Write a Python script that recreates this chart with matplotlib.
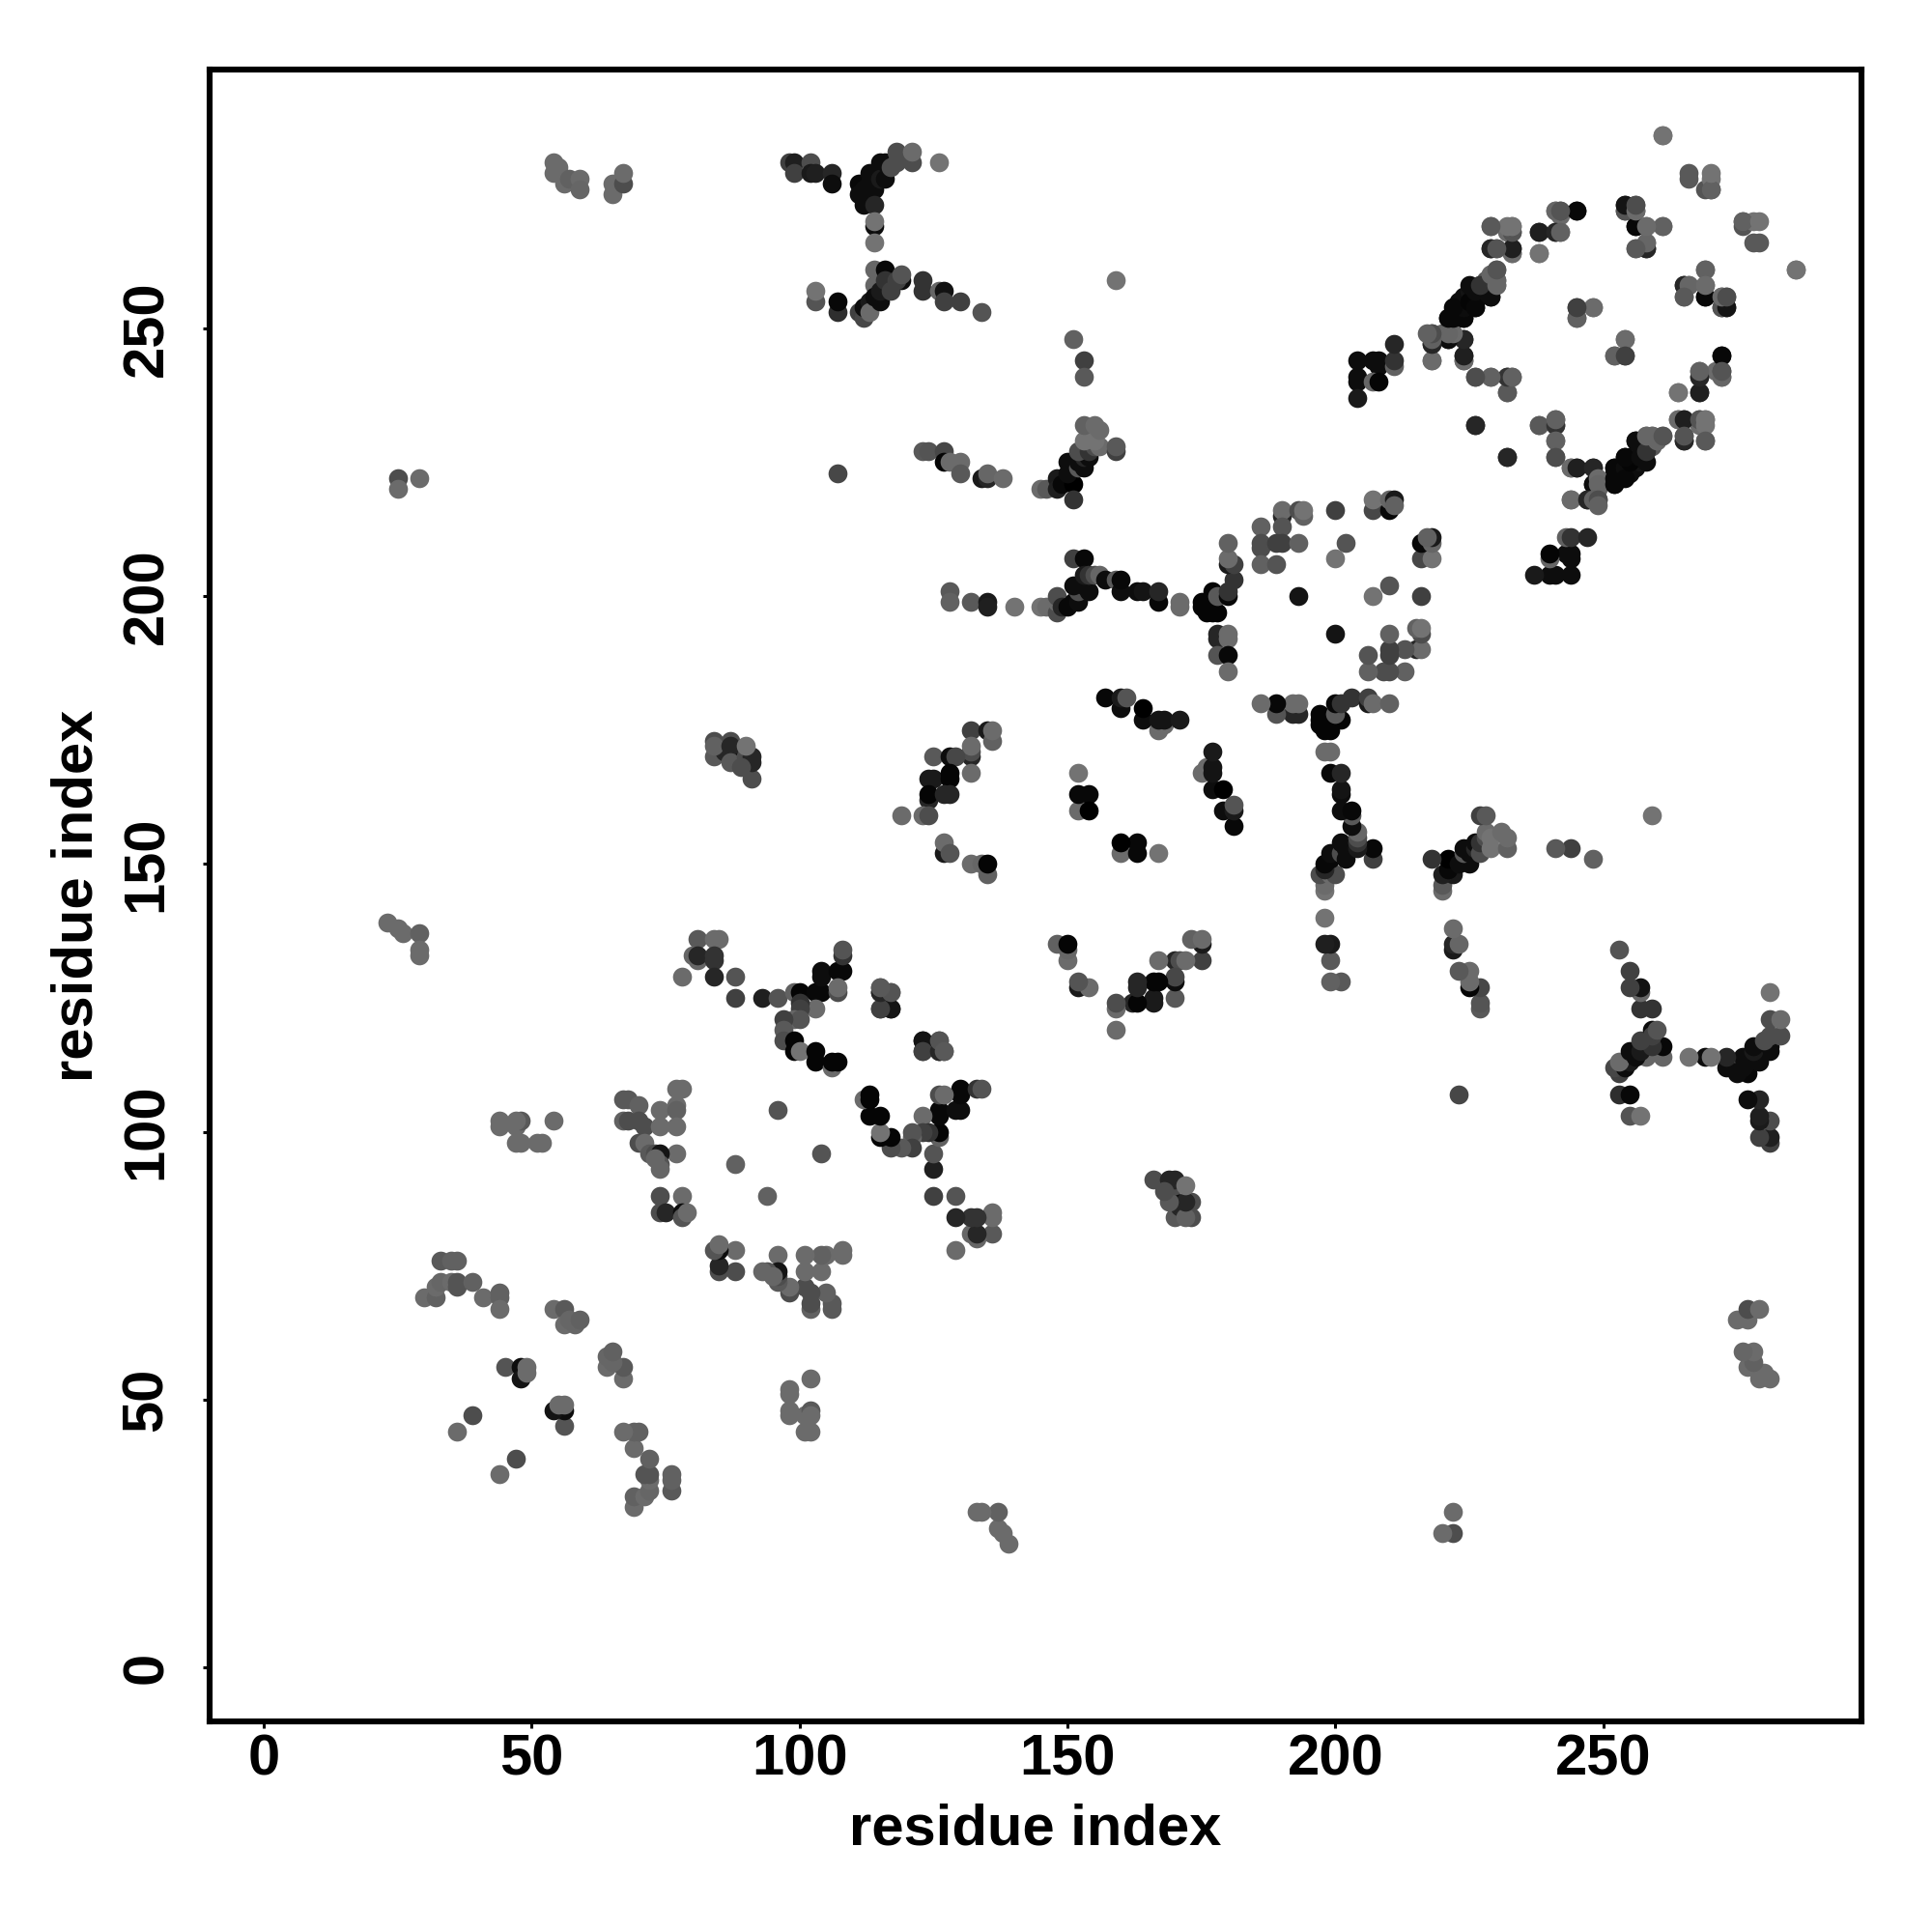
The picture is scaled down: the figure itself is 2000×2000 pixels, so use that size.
import matplotlib
matplotlib.use("Agg")
import matplotlib.pyplot as plt

# contacts as (residue i, residue j, grey level), i < j; the map is symmetric
far_a = [(25,222,.3),(25,220,.42),(29,222,.42),(23,139,.42),(25,138,.42),(26,137,.42),(29,137,.38),(29,134,.42),(29,133,.42)]
far_b = [(54,281,.42),(54,279,.42),(55,280,.42),(56,277,.42),(57,278,.38),(59,278,.42),(59,276,.4),
         (65,277,.42),(65,275,.42),(67,277,.3),(67,279,.42)]
top_left = [(98,281,.25),(99,281,.12),(99,279,.25),(102,281,.3),(102,279,.1),(103,279,.12),(106,279,.15),(106,277,.05),
            (111,277,.03),(111,275,.05),(112,276,.05),(112,273,.05),(113,279,.05),(113,277,.05),(114,276,.05),(114,273,.15),
            (115,281,.05),(115,278,.1),(116,281,.05),(116,278,.05),(117,280,.3),(118,283,.3),(118,281,.3),
            (121,281,.3),(121,283,.42),(126,281,.45),(114,269,.05),(114,270,.45),(114,266,.45)]
top_low = [(103,255,.33),(103,257,.45),(107,253,.18),(107,255,.03),(111,253,.25),(112,252,.28),(112,254,.05),
           (113,255,.1),(113,253,.42),(114,261,.4),(114,258,.4),(114,256,.05),(115,255,.05),(115,257,.1),
           (116,261,.03),(116,259,.2),(117,257,.25),(119,259,.05),(118,259,.25),(119,260,.33),
           (123,259,.2),(123,257,.2),(126,257,.4),(127,257,.07),(127,255,.25),(130,255,.25),(134,253,.33),(159,259,.45)]
mid_top = [(151,248,.38),(153,244,.25),(153,241,.35),(107,223,.28),
           (123,227,.35),(124,227,.33),(127,227,.28),(127,225,.02),(128,225,.42),(130,225,.42),(130,223,.35),
           (134,222,.1),(135,222,.15),(135,223,.4),(138,222,.42),(145,220,.42),(146,220,.35),
           (148,222,.1),(148,220,.12),(149,221,.03),(151,221,.0),(151,218,.2),(150,225,.05),(150,223,.05),
           (152,224,.35),(153,224,.05),(152,225,.05),(153,226,.15),(154,226,.05),(152,227,.3),(154,227,.2),
           (155,228,.3),(156,228,.42),(153,229,.45),(155,229,.45),(153,232,.38),(155,232,.42),(156,231,.42),
           (159,227,.25),(159,228,.35)]
line_200 = [(128,201,.35),(128,199,.38),(132,199,.35),(135,199,.1),(135,198,.12),(140,198,.45),(145,198,.45),(146,198,.42),
            (148,197,.3),(148,199,.42),(148,200,.3),(149,198,.15),(150,198,.03),(151,199,.03),(152,199,.05),
            (152,201,.3),(151,202,.05),(153,202,.05),(154,201,.05),(151,207,.25),(153,207,.03),(153,204,.1),
            (154,204,.2),(155,204,.3),(156,204,.4),(157,203,.05),(159,203,.35),(160,201,.05),(160,203,.03),
            (163,201,.05),(164,201,.08),(167,199,.03),(167,201,.15),(171,199,.42),(171,198,.42),
            (175,199,.02),(175,198,.02),(176,197,.02),(177,197,.02),(177,198,.02),(178,197,.02),(177,201,.02),
            (178,200,.35),(180,200,.03),(180,201,.2),(181,203,.2),(180,206,.1),(181,206,.25),(180,207,.42),(180,210,.38)]
ring_a = [(178,193,.15),(178,192,.15),(180,193,.42),(180,192,.42),(178,189,.33),(180,189,.03),(180,186,.42),
          (186,213,.38),(186,210,.3),(186,209,.3),(186,206,.38),(189,206,.33),(190,215,.15),(190,216,.42),(190,213,.33),
          (189,210,.25),(190,210,.25),(193,210,.38),(193,216,.3),(194,215,.38),(194,216,.45),(200,216,.25),
          (202,210,.33),(200,207,.45),(193,200,.08),
          (207,216,.28),(207,218,.45),(210,216,.03),(210,218,.4),(211,218,.1),(211,217,.38)]
upper_a = [(204,244,.05),(204,241,.05),(204,240,.05),(204,237,.1),(207,244,.05),(208,244,.05),(208,243,.05),(207,240,.4),(208,240,.02),
           (211,243,.38),(211,244,.2),(211,247,.15),(218,247,.2),(218,248,.3),(218,249,.33),(220,249,.38),(221,248,.03),(221,249,.45),
           (224,248,.12),(224,244,.35),(224,245,.15),(218,244,.42),(226,241,.3),(229,241,.4),(232,241,.25),(233,241,.33),(232,238,.35),
           (226,232,.12),(232,226,.15),(238,232,.35),(241,232,.2),(241,233,.38),(241,229,.38),(241,226,.3)]
upper_diag = [(221,252,.03),(223,252,.05),(224,252,.03),(222,253,.05),(226,254,.05),(223,255,.05),(226,255,.05),(224,256,.05),
              (225,257,.08),(226,257,.05),(228,257,.15),(229,256,.05),(229,257,.2),(228,259,.35),(227,258,.42),(230,258,.38),
              (230,259,.42),(229,260,.42),(230,261,.42),(229,265,.15),(230,265,.33),(233,265,.18),(233,264,.38),
              (229,269,.35),(232,268,.42),(233,268,.3),(233,269,.45),(238,264,.45),(238,268,.15),(241,268,.35),(242,268,.4),
              (241,272,.4),(242,271,.42),(242,272,.28),(245,272,.05),(245,254,.25),(245,252,.38),(248,254,.42)]
upper_low = [(244,224,.42),(245,224,.12),(248,224,.15),(248,221,.05),(249,222,.42),(249,221,.4),(244,218,.42),(247,218,.15),
             (248,218,.38),(249,218,.3),(249,217,.38),(252,224,.03),(252,222,.03),(252,221,.03),(254,224,.05),(254,222,.03),
             (255,225,.02),(254,226,.03),(256,229,.05),(257,228,.05),(257,226,.05),(258,225,.05),(258,227,.2),(258,230,.4),
             (259,230,.4),(260,229,.4),(261,230,.33),(264,233,.42),(265,233,.12),(265,229,.15),(265,230,.33),(268,233,.33),
             (269,233,.45),(269,232,.45),(269,229,.35),(264,238,.45),(268,238,.12),(268,241,.15),(268,242,.38),(272,245,.03),
             (272,241,.4),(272,242,.33),(254,248,.42),(252,245,.38),(254,245,.25)]
upper_right = [(261,286,.45),(266,278,.35),(269,276,.33),(270,276,.3),(270,278,.45),(276,270,.38),(279,270,.45),(279,266,.35),
               (254,272,.2),(254,273,.12),(256,272,.25),(256,273,.33),(256,269,.02),(258,269,.42),(261,269,.38),(256,265,.38),
               (258,265,.15),(258,266,.45),(265,258,.15),(266,258,.4),(265,256,.35),(269,261,.38),(269,256,.03),(269,258,.42),
               (272,254,.33),(273,254,.08),(272,256,.42),(273,256,.3),(286,261,.45)]
helix_mid = [(132,175,.25),(135,175,.1),(136,173,.38),(136,175,.42),(132,170,.15),(132,171,.3),(132,172,.42),(125,170,.35),
             (128,170,.05),(129,170,.28),(132,167,.42),(124,166,.1),(125,166,.1),(128,166,.02),(128,167,.02),(124,162,.15),
             (124,163,.02),(127,163,.15),(128,163,.15),(119,159,.42),(123,159,.42),(124,159,.3),(127,152,.1),(127,154,.42),
             (128,152,.33),(132,150,.42),(134,150,.4),(135,148,.38),(135,150,.02),
             (152,167,.45),(152,160,.42),(152,163,.03),(154,163,.03),(154,160,.0),
             (157,181,.03),(160,179,.05),(160,181,.1),(161,181,.33),(164,177,.05),(164,179,.0),(167,175,.42),(168,176,.42),
             (167,177,.08),(168,177,.08),(171,177,.1)]
low_mid = [(84,173,.3),(84,170,.35),(87,173,.3),(87,170,.05),(86,171,.15),(84,172,.38),(87,172,.15),(87,169,.35),
           (90,170,.3),(91,166,.3),(91,169,.15),(91,170,.15),(90,172,.45),(89,168,.3)]
low_left = [(81,136,.35),(84,136,.42),(85,136,.42),(80,133,.4),(81,132,.4),(81,133,.15),(84,132,.2),(84,133,.2),(84,129,.15),
            (78,129,.42),(88,129,.33),(88,125,.25),(93,125,.12),(96,125,.33),(99,126,.38),(100,126,.02),(103,126,.03),(104,126,.03),
            (104,129,.05),(104,130,.05),(107,130,.03),(108,130,.03),(108,133,.2),(108,134,.33),(107,126,.3),(107,127,.42),
            (103,123,.42),(100,124,.2),(100,123,.25),(99,121,.4),(100,121,.33),(97,121,.25),(97,119,.35),(97,117,.3),(99,117,.02),
            (99,115,.02),(100,115,.45),(103,115,.02),(103,113,.02),(106,112,.42),(106,113,.02),(107,113,.02),
            (115,127,.33),(115,126,.1),(117,126,.35),(115,123,.25),(117,123,.1),(123,117,.08),(123,115,.25),(126,115,.15),
            (126,117,.33),(127,115,.35)]
low_cross = [(68,106,.35),(67,106,.35),(70,105,.38),(74,104,.42),(77,105,.42),(77,104,.38),(77,108,.42),(78,108,.42),
             (67,102,.38),(68,102,.3),(70,102,.3),(71,101,.3),(74,101,.42),(77,101,.42),(70,98,.3),(71,98,.42),(77,96,.42),
             (72,96,.35),(73,96,.3),(74,96,.08),(74,94,.33),(73,95,.4),(74,93,.4),(88,94,.38),(96,104,.33),
             (74,88,.3),(78,88,.42),(74,85,.3),(75,85,.15),(78,85,.05),(78,84,.33),(79,85,.42),
             (44,101,.42),(44,102,.42),(47,101,.42),(48,102,.35),(47,102,.42),(47,98,.42),(48,98,.42),(51,98,.42),(52,98,.42),(54,102,.42)]
near_diag = [(33,76,.35),(35,76,.38),(36,76,.38),(30,69,.42),(32,69,.38),(32,71,.42),(33,72,.4),(35,72,.42),(36,71,.33),(36,72,.33),
             (39,72,.38),(41,69,.42),(44,70,.38),(44,69,.38),(44,67,.42),(54,67,.42),(56,67,.35),(56,64,.42),(58,64,.4),(57,65,.4),
             (59,65,.38),(45,56,.33),(48,56,.05),(48,54,.08),(49,56,.42),(49,55,.42),(39,47,.3),(36,44,.42)]

clusters = [far_a, far_b, top_left, top_low, mid_top, line_200, ring_a, upper_a, upper_diag,
            upper_low, upper_right, helix_mid, low_mid, low_left, low_cross, near_diag]

fig = plt.figure(figsize=(10, 10), dpi=200)
ax = fig.add_axes([217/2000, 1-1782/2000, 1710/2000, 1710/2000])
for contacts in clusters:
    for i, j, g in contacts:
        ax.scatter([i, j], [j, i], s=50, color=str(g), linewidths=0, zorder=2)

ax.set_xlim(-10.1, 298.2)
ax.set_ylim(-10.1, 298.3)
ax.set_xticks([0, 50, 100, 150, 200, 250])
ax.set_yticks([0, 50, 100, 150, 200, 250])
font = {"family": "Liberation Sans", "weight": "bold", "size": 21.5}
ax.set_xticklabels(["0", "50", "100", "150", "200", "250"], **font)
ax.set_yticklabels(["0", "50", "100", "150", "200", "250"], rotation=90, va="center", **font)
ax.tick_params(axis="x", length=2.5, width=1.1, pad=2)
ax.tick_params(axis="y", length=2.5, width=1.1, pad=10.8)
for s in ax.spines.values():
    s.set_linewidth(2.2)
ax.set_xlabel("residue index", labelpad=6, **font)
ax.set_ylabel("residue index", labelpad=6.3, **font)
fig.savefig("out.png", dpi=200)
